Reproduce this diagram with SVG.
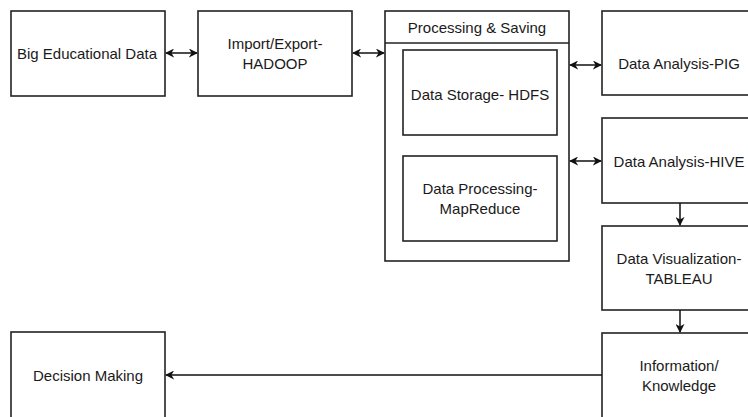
<svg xmlns="http://www.w3.org/2000/svg" width="748" height="417" viewBox="0 0 748 417">
<defs>
<marker id="ah" viewBox="0 0 10 10" refX="9" refY="5" markerWidth="9" markerHeight="9" markerUnits="userSpaceOnUse" orient="auto-start-reverse">
<path d="M0,0 L10,5 L0,10 L3,5 z" fill="#111"/>
</marker>
<style>
.box{fill:#fff;stroke:#222;stroke-width:1.6}
.t{font-family:"Liberation Sans",Arial,sans-serif;font-size:15px;fill:#1a1a1a;text-anchor:middle;dominant-baseline:central}
.c{fill:none;stroke:#111;stroke-width:1.5}
</style>
</defs>
<rect width="748" height="417" fill="#fff"/>
<g id="big-data"><rect class="box" x="11" y="11" width="154" height="85"/><text class="t" x="87" y="53">Big Educational Data</text></g>
<g id="import-export"><rect class="box" x="198" y="11" width="154" height="85"/><text class="t" x="275" y="43">Import/Export-</text><text class="t" x="275" y="63">HADOOP</text></g>
<g id="processing"><rect class="box" x="385" y="11" width="184" height="250"/><line class="box" x1="385" y1="43" x2="569" y2="43"/><text class="t" x="477" y="27">Processing &amp; Saving</text></g>
<g id="hdfs"><rect class="box" x="403" y="50" width="154" height="85"/><text class="t" x="480" y="94">Data Storage- HDFS</text></g>
<g id="mapreduce"><rect class="box" x="403" y="156" width="154" height="85"/><text class="t" x="480" y="188">Data Processing-</text><text class="t" x="480" y="208">MapReduce</text></g>
<g id="pig"><rect class="box" x="602" y="11" width="154" height="84"/><text class="t" x="679" y="63">Data Analysis-PIG</text></g>
<g id="hive"><rect class="box" x="602" y="118" width="154" height="85"/><text class="t" x="679" y="161">Data Analysis-HIVE</text></g>
<g id="tableau"><rect class="box" x="602" y="226" width="154" height="84"/><text class="t" x="679" y="258">Data Visualization-</text><text class="t" x="679" y="278">TABLEAU</text></g>
<g id="knowledge"><rect class="box" x="602" y="333" width="154" height="90"/><text class="t" x="679" y="365">Information/</text><text class="t" x="679" y="385">Knowledge</text></g>
<g id="decision"><rect class="box" x="11" y="332" width="154" height="90"/><text class="t" x="88" y="375">Decision Making</text></g>
<g id="connectors">
<line class="c" x1="166" y1="53" x2="197" y2="53" marker-start="url(#ah)" marker-end="url(#ah)"/>
<line class="c" x1="353" y1="53" x2="384" y2="53" marker-start="url(#ah)" marker-end="url(#ah)"/>
<line class="c" x1="570" y1="65" x2="601" y2="65" marker-start="url(#ah)" marker-end="url(#ah)"/>
<line class="c" x1="570" y1="161" x2="601" y2="161" marker-start="url(#ah)" marker-end="url(#ah)"/>
<line class="c" x1="680" y1="203" x2="680" y2="225" marker-end="url(#ah)"/>
<line class="c" x1="680" y1="310" x2="680" y2="332" marker-end="url(#ah)"/>
<line class="c" x1="602" y1="375" x2="166" y2="375" marker-end="url(#ah)"/>
</g>
</svg>
